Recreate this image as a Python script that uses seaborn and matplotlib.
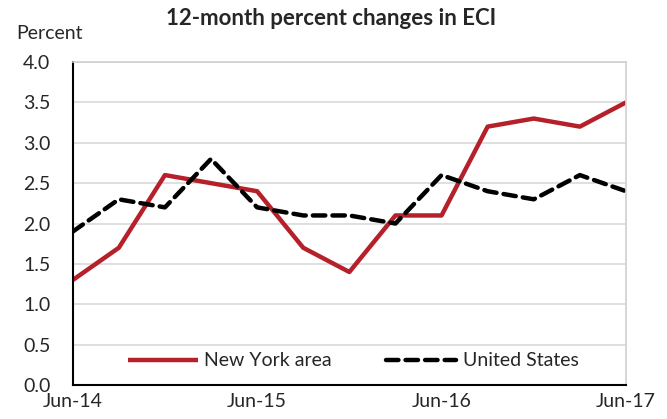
import pandas as pd
import matplotlib.pyplot as plt
import seaborn as sns

# quarterly observations, Jun-14 .. Jun-17
quarters = list(range(13))
new_york = [1.3, 1.7, 2.6, 2.5, 2.4, 1.7, 1.4, 2.1, 2.1, 3.2, 3.3, 3.2, 3.5]
united_states = [1.9, 2.3, 2.2, 2.8, 2.2, 2.1, 2.1, 2.0, 2.6, 2.4, 2.3, 2.6, 2.4]
tick_pos = [0, 4, 8, 12]
tick_labels = ['Jun-14', 'Jun-15', 'Jun-16', 'Jun-17']
y_ticks = [0, 0.5, 1, 1.5, 2, 2.5, 3, 3.5, 4]

df = pd.DataFrame({
    'q': quarters * 2,
    'value': new_york + united_states,
    'series': ['New York area'] * 13 + ['United States'] * 13,
})

sns.set_style('white')
plt.rcParams['font.family'] = ['Lato', 'DejaVu Sans']

fig = plt.figure(figsize=(6.67, 4.19), dpi=100)
ax = fig.add_axes([0.109, 0.081, 0.8295, 0.771])

for y in y_ticks[1:]:
    ax.axhline(y, color='#d9d9d9', lw=1.2, zorder=0)

sns.lineplot(data=df, x='q', y='value', hue='series', style='series',
             palette={'New York area': '#b5202a', 'United States': 'black'},
             dashes={'New York area': '', 'United States': (2.8, 1.6)},
             linewidth=3.2, ax=ax, legend=False)
for line in ax.get_lines()[-2:]:
    line.set_dash_capstyle('round')
    line.set_solid_capstyle('butt')

ax.set_xlim(0, 12)
ax.set_ylim(0, 4)
ax.set_yticks(y_ticks)
ax.set_yticklabels([f'{v:.1f}' for v in y_ticks], fontsize=14)
ax.set_xticks(tick_pos)
ax.set_xticklabels(tick_labels, fontsize=14)
ax.tick_params(axis='x', direction='inout', length=10, width=1.2, pad=1)
ax.tick_params(axis='y', length=0, pad=16)
ax.set_xlabel('')
ax.set_ylabel('')

for s in ['top', 'right']:
    ax.spines[s].set_color('#d0d0d0')
    ax.spines[s].set_linewidth(1.2)
for s in ['left', 'bottom']:
    ax.spines[s].set_color('black')
    ax.spines[s].set_linewidth(1.5)

fig.text(0.497, 0.957, '12-month percent changes in ECI', fontsize=16,
         fontweight='bold', ha='center', va='center')
fig.text(0.025, 0.92, 'Percent', fontsize=14, va='center')

lines = ax.get_lines()[-2:]
ax.legend(lines, ['New York area', 'United States'], ncol=2, frameon=False,
          loc='center left', bbox_to_anchor=(0.085, 0.075), fontsize=14,
          handlelength=3.6, handletextpad=0.35, columnspacing=2.8,
          borderaxespad=0)

fig.savefig('out.png', dpi=100)
